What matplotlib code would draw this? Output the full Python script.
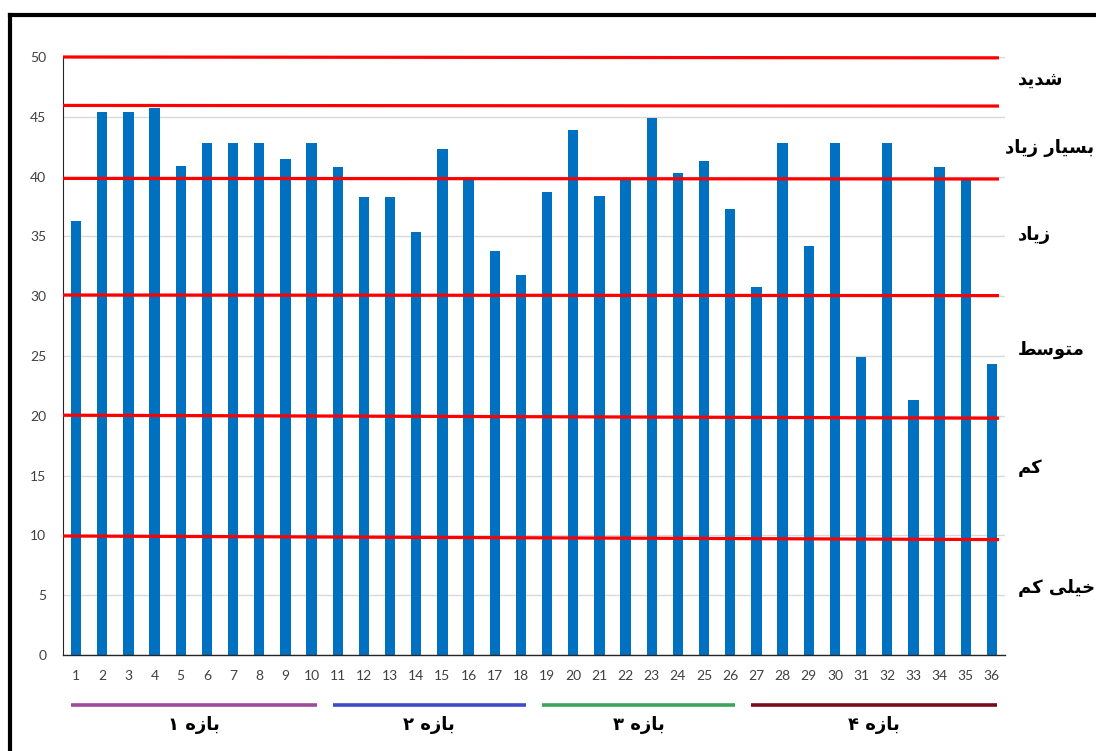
import matplotlib.pyplot as plt
from matplotlib.lines import Line2D

# bar values
samples = list(range(1, 37))
values = [36.3, 45.4, 45.4, 45.7, 40.9, 42.85, 42.85, 42.85, 41.45, 42.85,
          40.8, 38.3, 38.3, 35.4, 42.3, 39.8, 33.8, 31.8, 38.7, 43.9,
          38.4, 39.8, 44.9, 40.3, 41.3, 37.3, 30.8, 42.8, 34.2, 42.8,
          24.9, 42.8, 21.3, 40.8, 39.7, 24.3]

# hand drawn red threshold lines (value at left end, value at right end)
red_left = [50.0, 45.95, 39.85, 30.1, 20.05, 9.95]
red_right = [49.93, 45.9, 39.8, 30.05, 19.8, 9.65]

# class labels on the right and their heights
class_labels = ['شدید', 'بسیار زیاد', 'زیاد', 'متوسط', 'کم', 'خیلی کم']
class_pos = [48.1, 42.4, 35.1, 25.5, 15.6, 5.6]

# periods under the x axis
period_labels = ['بازه ۱', 'بازه ۲', 'بازه ۳', 'بازه ۴']
period_start = [1, 11, 19, 27]
period_end = [10, 18, 26, 36]
period_colors = ['#9e4b9e', '#3d4bc9', '#3ba35a', '#7b0a1e']

# matplotlib has no arabic shaping, so map letters to presentation forms
FORMS = {
    'ا': ('\ufe8d', '\ufe8e'), 'د': ('\ufea9', '\ufeaa'),
    'ر': ('\ufead', '\ufeae'), 'ز': ('\ufeaf', '\ufeb0'),
    'و': ('\ufeed', '\ufeee'),
    'ب': ('\ufe8f', '\ufe90', '\ufe91', '\ufe92'),
    'ت': ('\ufe95', '\ufe96', '\ufe97', '\ufe98'),
    'خ': ('\ufea5', '\ufea6', '\ufea7', '\ufea8'),
    'س': ('\ufeb1', '\ufeb2', '\ufeb3', '\ufeb4'),
    'ش': ('\ufeb5', '\ufeb6', '\ufeb7', '\ufeb8'),
    'ط': ('\ufec1', '\ufec2', '\ufec3', '\ufec4'),
    'ل': ('\ufedd', '\ufede', '\ufedf', '\ufee0'),
    'م': ('\ufee1', '\ufee2', '\ufee3', '\ufee4'),
    'ه': ('\ufee9', '\ufeea', '\ufeeb', '\ufeec'),
    'ی': ('\ufbfc', '\ufbfd', '\ufbfe', '\ufbff'),
    'ک': ('\ufb8e', '\ufb8f', '\ufb90', '\ufb91'),
}


def shape(s):
    out = []
    for i, c in enumerate(s):
        f = FORMS.get(c)
        if f is None:
            out.append(c)
            continue
        prev = s[i - 1] if i > 0 else ''
        nxt = s[i + 1] if i + 1 < len(s) else ''
        jp = prev in FORMS and len(FORMS[prev]) == 4
        jn = len(f) == 4 and nxt in FORMS
        if jp and jn:
            out.append(f[3])
        elif jp:
            out.append(f[1])
        elif jn:
            out.append(f[2])
        else:
            out.append(f[0])
    return ''.join(reversed(out))


fig = plt.figure(figsize=(10.96, 7.51), dpi=100)
ax = fig.add_axes([63 / 1096, 96 / 751, 942 / 1096, 598 / 751])

ax.bar(samples, values, width=0.4, color='#0070c0', zorder=2)
for yl, yr in zip(red_left, red_right):
    ax.plot([0.5, 36.27], [yl, yr], color='red', lw=2.3, zorder=3,
            solid_capstyle='butt', clip_on=False)

ax.set_xlim(0.5, 36.5)
ax.set_ylim(0, 50)
ax.set_yticks(range(0, 51, 5))
ax.set_xticks(samples)
ax.grid(axis='y', color='#d9d9d9', lw=1, zorder=0)
ax.tick_params(length=0, labelsize=10, labelcolor='#404040')
ax.tick_params(axis='y', pad=12)
ax.tick_params(axis='x', pad=11)
for lab in ax.get_xticklabels() + ax.get_yticklabels():
    lab.set_family('Lato')
for side in ['top', 'right']:
    ax.spines[side].set_visible(False)
ax.spines['left'].set_color('#262626')
ax.spines['bottom'].set_color('#262626')
ax.spines['left'].set_linewidth(0.8)
ax.spines['bottom'].set_linewidth(1.0)

# labels on the right, left aligned just past the plot
trans_r = ax.get_yaxis_transform()
for lab, y in zip(class_labels, class_pos):
    if lab == 'بسیار زیاد':
        # keep the widest one inside the figure
        ax.text(1.0944, y, shape(lab), transform=trans_r, ha='right',
                va='center', fontsize=13, fontweight='bold',
                family='DejaVu Sans', clip_on=False)
        continue
    ax.text(1.0135, y, shape(lab), transform=trans_r, ha='left', va='center',
            fontsize=13, fontweight='bold', family='DejaVu Sans',
            clip_on=False)

# period bars and labels below the axis
trans_b = ax.get_xaxis_transform()
for lab, s, e, c in zip(period_labels, period_start, period_end, period_colors):
    ax.plot([s - 0.2, e + 0.2], [-0.083, -0.083], color=c, lw=2.6,
            transform=trans_b, clip_on=False, solid_capstyle='butt')
    ax.text((s + e) / 2, -0.117, shape(lab), transform=trans_b, ha='center',
            va='center', fontsize=13, fontweight='bold', family='DejaVu Sans')

# black frame around the figure (top and left visible)
fig.add_artist(Line2D([9.5 / 1096, 1.0], [1 - 15 / 751, 1 - 15 / 751],
                      color='black', lw=3, transform=fig.transFigure))
fig.add_artist(Line2D([9.5 / 1096, 9.5 / 1096], [0, 1 - 15 / 751],
                      color='black', lw=3, transform=fig.transFigure))

fig.savefig('out.png', dpi=100)
